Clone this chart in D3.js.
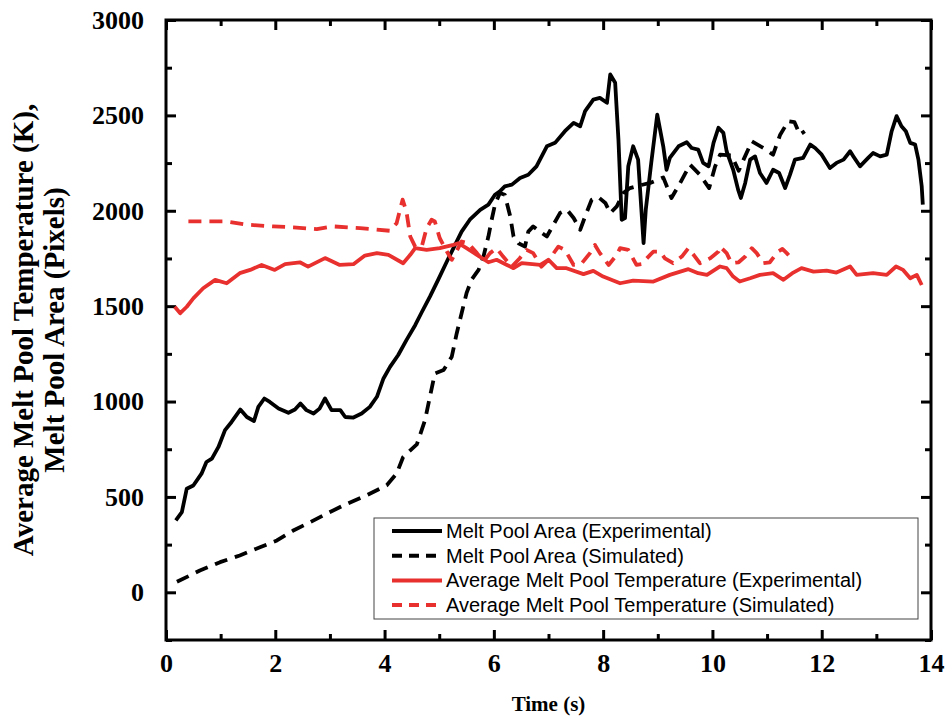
<!DOCTYPE html>
<html lang="en">
<head>
<meta charset="UTF-8">
<title>Melt Pool Area and Temperature</title>
<script src="https://d3js.org/d3.v7.min.js"></script>
<style>
    body { margin: 0; padding: 0; background: #fff; }
    .tick text { font-family: "Liberation Serif", "Times New Roman", serif; font-weight: bold; font-size: 26px; fill: #000; }
    .axis-title { font-family: "Liberation Serif", "Times New Roman", serif; font-weight: bold; fill: #000; }
    .legend text { font-family: "Liberation Sans", Arial, sans-serif; font-size: 20px; fill: #000; }
</style>
</head>
<body>
<div id="chart"></div>
<script>
// data: [time (s), value]
const areaExp = [[0.18,377],[0.29,420],[0.38,543],[0.50,560],[0.65,622],[0.74,683],[0.84,701],[0.96,762],[1.08,850],[1.20,893],[1.36,958],[1.48,919],[1.61,898],[1.69,972],[1.80,1016],[1.90,998],[2.06,964],[2.24,941],[2.36,958],[2.46,990],[2.57,955],[2.70,937],[2.81,963],[2.91,1016],[3.03,955],[3.19,955],[3.28,919],[3.43,916],[3.58,937],[3.73,972],[3.86,1025],[3.98,1121],[4.10,1182],[4.25,1244],[4.40,1322],[4.56,1400],[4.68,1468],[4.83,1550],[4.98,1638],[5.14,1734],[5.29,1821],[5.41,1891],[5.56,1953],[5.75,2005],[5.90,2032],[6.02,2084],[6.11,2102],[6.20,2128],[6.33,2137],[6.48,2172],[6.63,2189],[6.78,2233],[6.97,2338],[7.12,2356],[7.30,2417],[7.46,2461],[7.58,2443],[7.67,2522],[7.82,2583],[7.94,2592],[8.07,2566],[8.13,2715],[8.22,2671],[8.28,2373],[8.34,1953],[8.40,1962],[8.46,2233],[8.55,2338],[8.64,2268],[8.74,1830],[8.78,2005],[8.88,2250],[8.99,2504],[9.10,2338],[9.16,2215],[9.22,2277],[9.38,2338],[9.53,2359],[9.62,2329],[9.74,2321],[9.83,2251],[9.93,2233],[10.02,2356],[10.11,2435],[10.20,2408],[10.26,2312],[10.38,2215],[10.47,2111],[10.52,2067],[10.60,2146],[10.69,2268],[10.78,2285],[10.87,2198],[10.99,2146],[11.11,2215],[11.22,2198],[11.33,2119],[11.42,2189],[11.51,2268],[11.66,2277],[11.79,2347],[11.88,2329],[12.00,2294],[12.15,2224],[12.27,2251],[12.40,2268],[12.52,2312],[12.58,2285],[12.70,2233],[12.85,2277],[12.94,2303],[13.07,2285],[13.19,2294],[13.28,2417],[13.37,2496],[13.46,2443],[13.54,2417],[13.62,2356],[13.71,2347],[13.77,2268],[13.83,2128],[13.85,2032]];

const areaSim = [[0.20,55],[0.62,114],[0.99,158],[1.35,193],[1.72,236],[2.03,272],[2.33,324],[2.64,368],[2.94,412],[3.31,464],[3.67,508],[4.04,561],[4.22,622],[4.34,709],[4.59,775],[4.74,902],[4.83,1025],[4.92,1147],[5.08,1165],[5.23,1235],[5.32,1357],[5.41,1463],[5.50,1568],[5.59,1638],[5.72,1690],[5.81,1760],[5.90,1865],[5.96,1953],[6.02,2032],[6.11,2093],[6.20,2084],[6.30,1970],[6.36,1865],[6.45,1830],[6.57,1812],[6.63,1891],[6.72,1918],[6.84,1891],[6.97,1865],[7.09,1927],[7.21,1988],[7.34,2005],[7.46,1962],[7.58,1900],[7.67,1970],[7.79,2058],[7.91,2072],[8.04,2041],[8.13,1988],[8.25,2023],[8.37,2093],[8.49,2119],[8.70,2135],[8.86,2146],[9.10,2175],[9.25,2067],[9.41,2146],[9.59,2242],[9.77,2189],[9.94,2119],[10.05,2233],[10.14,2294],[10.35,2290],[10.48,2210],[10.57,2268],[10.72,2364],[10.93,2329],[11.11,2294],[11.24,2399],[11.39,2470],[11.50,2465],[11.60,2399],[11.69,2417]];

const tempExp = [[0.16,1497],[0.26,1463],[0.38,1497],[0.50,1541],[0.68,1594],[0.90,1638],[1.11,1620],[1.35,1673],[1.54,1690],[1.75,1716],[1.99,1690],[2.18,1720],[2.45,1730],[2.60,1707],[2.91,1752],[3.18,1716],[3.43,1720],[3.64,1765],[3.86,1778],[4.07,1769],[4.34,1725],[4.47,1769],[4.56,1804],[4.77,1795],[5.01,1804],[5.26,1821],[5.35,1830],[5.50,1804],[5.69,1769],[5.90,1730],[6.05,1743],[6.24,1716],[6.36,1699],[6.51,1725],[6.85,1716],[7.00,1743],[7.15,1699],[7.33,1699],[7.64,1668],[7.82,1685],[8.00,1655],[8.31,1620],[8.55,1634],[8.92,1629],[9.22,1664],[9.56,1694],[9.74,1673],[9.90,1664],[10.14,1708],[10.26,1699],[10.38,1655],[10.50,1629],[10.69,1646],[10.87,1664],[11.11,1673],[11.30,1638],[11.48,1676],[11.63,1699],[11.85,1681],[12.09,1686],[12.27,1676],[12.52,1708],[12.64,1664],[12.94,1673],[13.19,1664],[13.36,1708],[13.49,1690],[13.62,1646],[13.74,1664],[13.83,1611]];

const tempSim = [[0.41,1944],[0.81,1944],[1.11,1944],[1.48,1927],[1.96,1918],[2.33,1913],[2.76,1904],[3.06,1918],[3.55,1909],[4.10,1895],[4.22,1935],[4.33,2058],[4.40,1996],[4.47,1865],[4.56,1812],[4.68,1812],[4.77,1909],[4.86,1953],[4.92,1944],[5.01,1856],[5.14,1786],[5.23,1743],[5.32,1790],[5.41,1839],[5.53,1830],[5.69,1778],[5.81,1734],[5.93,1778],[6.05,1804],[6.17,1760],[6.33,1707],[6.47,1750],[6.60,1795],[6.72,1778],[6.87,1707],[7.03,1752],[7.18,1812],[7.30,1795],[7.46,1716],[7.61,1725],[7.76,1778],[7.85,1821],[7.94,1778],[8.10,1716],[8.25,1769],[8.31,1804],[8.46,1795],[8.61,1716],[8.70,1720],[8.86,1769],[8.92,1786],[9.04,1786],[9.13,1751],[9.28,1725],[9.44,1760],[9.56,1804],[9.68,1760],[9.77,1725],[9.96,1751],[10.11,1786],[10.14,1812],[10.26,1778],[10.35,1725],[10.48,1730],[10.60,1760],[10.72,1804],[10.81,1778],[10.93,1725],[11.05,1730],[11.20,1786],[11.28,1800],[11.36,1778],[11.47,1743]];

const xTicks = [0, 2, 4, 6, 8, 10, 12, 14];
const xMinor = [1, 3, 5, 7, 9, 11, 13];
const yTicks = [0, 500, 1000, 1500, 2000, 2500, 3000];
const yMinor = [-250, 250, 750, 1250, 1750, 2250, 2750];

const legendLabels = ["Melt Pool Area (Experimental)", "Melt Pool Area (Simulated)",
                      "Average Melt Pool Temperature (Experimental)", "Average Melt Pool Temperature (Simulated)"];

const W = 952, H = 719;
const margin = {top: 20, right: 21, bottom: 79, left: 166};
const width = W - margin.left - margin.right, height = H - margin.top - margin.bottom;
const RED = "#e8302e";

const svg = d3.select("#chart").append("svg")
    .attr("width", W).attr("height", H)
    .style("background", "#fff");
const g = svg.append("g").attr("transform", `translate(${margin.left},${margin.top})`);

const x = d3.scaleLinear().domain([0, 14]).range([0, width]);
const y = d3.scaleLinear().domain([-250, 3000]).range([height, 0]);

// axes, ticks pointing inwards on every side
function addAxis(axis, transform) {
    const a = g.append("g").attr("transform", transform).call(axis);
    a.select(".domain").remove();
    a.selectAll(".tick line").attr("stroke", "#000").attr("stroke-width", 3);
    return a;
}
addAxis(d3.axisBottom(x).tickValues(xTicks).tickSize(-10).tickPadding(14).tickFormat(d3.format("d")), `translate(0,${height})`);
addAxis(d3.axisBottom(x).tickValues(xMinor).tickSize(-6).tickFormat(""), `translate(0,${height})`);
addAxis(d3.axisTop(x).tickValues(xTicks).tickSize(-10).tickFormat(""), "translate(0,0)");
addAxis(d3.axisTop(x).tickValues(xMinor).tickSize(-6).tickFormat(""), "translate(0,0)");
addAxis(d3.axisLeft(y).tickValues(yTicks).tickSize(-10).tickPadding(22).tickFormat(d3.format("d")), "translate(0,0)");
addAxis(d3.axisLeft(y).tickValues(yMinor).tickSize(-6).tickFormat(""), "translate(0,0)");
addAxis(d3.axisRight(y).tickValues(yTicks).tickSize(-10).tickFormat(""), `translate(${width},0)`);
addAxis(d3.axisRight(y).tickValues(yMinor).tickSize(-6).tickFormat(""), `translate(${width},0)`);

g.append("rect")
    .attr("width", width).attr("height", height)
    .attr("fill", "none").attr("stroke", "#000").attr("stroke-width", 3);

// series
const line = d3.line().x(d => x(d[0])).y(d => y(d[1]));
const series = [
    {data: areaExp, color: "#000", dash: null},
    {data: areaSim, color: "#000", dash: "13,8"},
    {data: tempExp, color: RED, dash: null},
    {data: tempSim, color: RED, dash: "13,8"}
];
series.forEach(s => {
    g.append("path")
        .datum(s.data)
        .attr("fill", "none")
        .attr("stroke", s.color)
        .attr("stroke-width", 3.8)
        .attr("stroke-linejoin", "round")
        .attr("stroke-dasharray", s.dash)
        .attr("d", line);
});

// axis titles
svg.append("text").attr("class", "axis-title")
    .attr("x", margin.left + width / 2).attr("y", 711)
    .attr("text-anchor", "middle").style("font-size", "21px")
    .text("Time (s)");

const yTitle = svg.append("text").attr("class", "axis-title")
    .attr("transform", "translate(0,330) rotate(-90)")
    .attr("text-anchor", "middle").style("font-size", "29px");
yTitle.append("tspan").attr("x", 0).attr("y", 33).text("Average Melt Pool Temperature (K),");
yTitle.append("tspan").attr("x", 0).attr("y", 64).text("Melt Pool Area (Pixels)");

// legend
const legend = svg.append("g").attr("class", "legend");
legend.append("rect")
    .attr("x", 374).attr("y", 518).attr("width", 544).attr("height", 101)
    .attr("fill", "#fff").attr("stroke", "#444").attr("stroke-width", 1);
legendLabels.forEach((lab, i) => {
    const cy = 531 + i * 24.7;
    legend.append("line")
        .attr("x1", 392).attr("x2", 442).attr("y1", cy).attr("y2", cy)
        .attr("stroke", series[i].color).attr("stroke-width", 4)
        .attr("stroke-dasharray", series[i].dash ? "10,7" : null);
    legend.append("text").attr("x", 446).attr("y", cy + 7).text(lab);
});
</script>
</body>
</html>
